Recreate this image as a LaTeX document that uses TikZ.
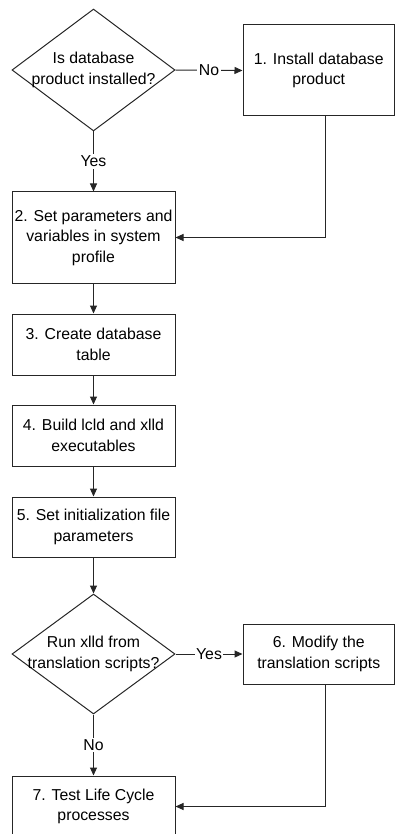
\documentclass[tikz,border=0pt]{standalone}
\usepackage{fontspec}
\setmainfont{Liberation Sans}
\usetikzlibrary{shapes.geometric,arrows.meta,calc}
\tikzset{
  every node/.style={font=\fontsize{15.8}{20.5}\selectfont},
  stepbox/.style={draw=black!85, line width=1pt, rectangle, inner sep=0pt, align=center},
  decbox/.style={draw=black!85, line width=1pt, diamond, inner sep=0pt, minimum width=163pt},
  txt/.style={align=center, inner sep=0pt},
  conn/.style={draw=black!85, line width=1pt, -{Triangle[length=8pt,width=7pt]}},
  lab/.style={fill=white, inner sep=1.5pt}
}
\begin{document}
\begin{tikzpicture}[x=1pt,y=-1pt]
\useasboundingbox (0,0) rectangle (395,834);
\clip (0,0) rectangle (395,834);
% nodes
\node[decbox, minimum height=122pt] (d1) at (93.5,70) {};
\node[txt] (d1t) at (d1.center) {Is database\\product installed?};
\node[stepbox, minimum width=151.5pt, minimum height=91pt] (b1) at (318.75,70.5) {1. Install database\\product};
\node[stepbox, minimum width=163pt, minimum height=91pt] (b2) at (93.5,237.5) {2. Set parameters and\\variables in system\\profile};
\node[stepbox, minimum width=163pt, minimum height=61pt] (b3) at (93.5,344.5) {3. Create database\\table};
\node[stepbox, minimum width=163pt, minimum height=61pt] (b4) at (93.5,435.5) {4. Build lcld and xlld\\executables};
\node[stepbox, minimum width=163pt, minimum height=60pt] (b5) at (93.5,527) {5. Set initialization file\\parameters};
\node[decbox, minimum height=120pt] (d2) at (93.5,654) {};
\node[txt] (d2t) at (d2.center) {Run xlld from\\translation scripts?};
\node[stepbox, minimum width=151.5pt, minimum height=60pt] (b6) at (318.75,654) {6. Modify the\\translation scripts};
\node[stepbox, minimum width=163pt, minimum height=61pt] (b7) at (93.5,806.5) {7. Test Life Cycle\\processes};
\coordinate (c1) at (325,237.5);
\coordinate (c2) at (325,806.5);
% connectors
\draw[conn] (d1.east) -- node[lab] (lno) {No} (b1.west);
\draw[conn] (d1.south) -- node[lab] (lyes) {Yes} (b2.north);
\draw[conn] (b1.south -| c1) -- (c1) -- (b2.east);
\draw[conn] (b2.south) -- (b3.north);
\draw[conn] (b3.south) -- (b4.north);
\draw[conn] (b4.south) -- (b5.north);
\draw[conn] (b5.south) -- (d2.north);
\draw[conn] (d2.east) -- node[lab] (lyes2) {Yes} (b6.west);
\draw[conn] (d2.south) -- node[lab] (lno2) {No} (b7.north);
\draw[conn] (b6.south -| c2) -- (c2) -- (b7.east);
\end{tikzpicture}
\end{document}
